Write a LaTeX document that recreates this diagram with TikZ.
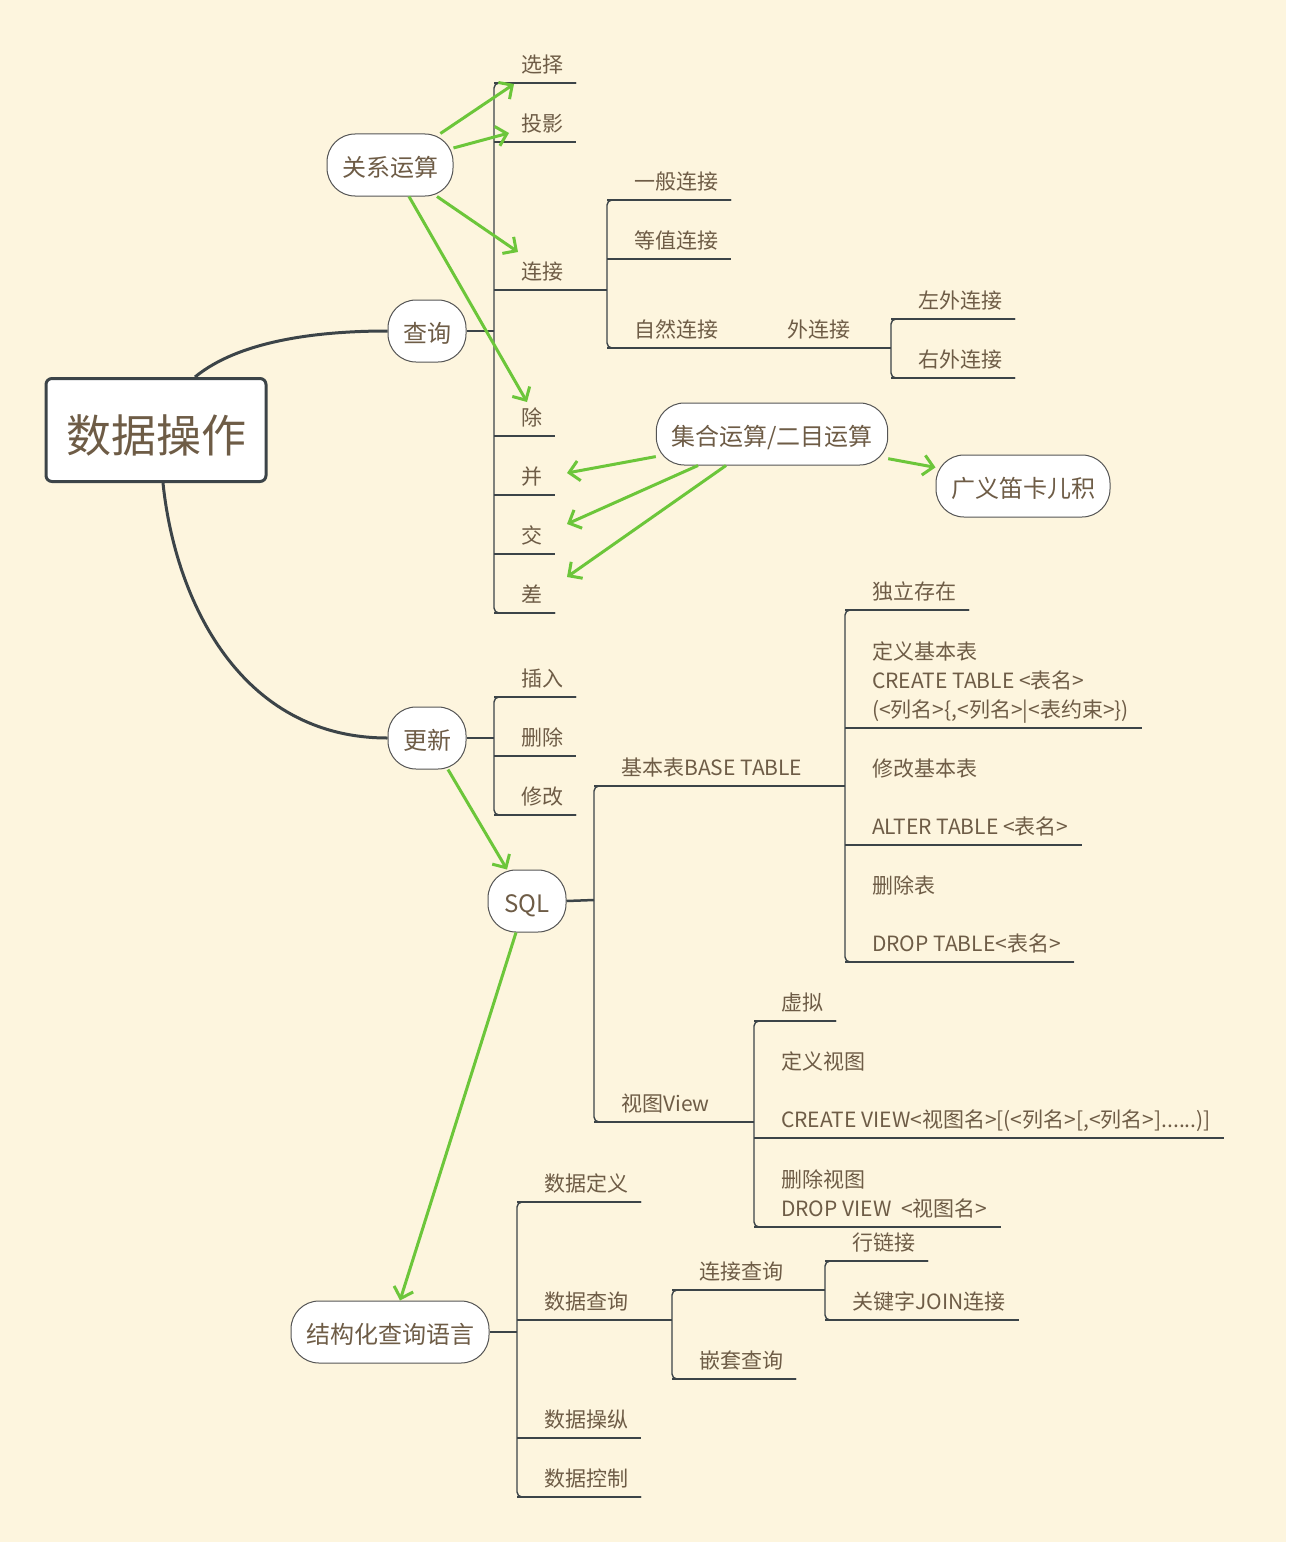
\documentclass[tikz,border=0pt]{standalone}
\usepackage{fontspec}
\setmainfont{Noto Sans CJK SC}
\usetikzlibrary{arrows.meta,calc}

\definecolor{paper}{RGB}{253,245,222}
\definecolor{ink}{RGB}{110,92,70}
\definecolor{wire}{RGB}{60,68,72}
\definecolor{rim}{RGB}{85,85,85}
\definecolor{grn}{RGB}{108,198,58}

\tikzset{
  topic/.style={draw=wire, line width=3pt, fill=white, rounded corners=6pt, minimum width=220pt, minimum height=103pt, inner sep=0pt, text height=45pt, text depth=0pt, text=ink, font=\fontsize{45}{54}\selectfont},
  subtopic/.style={draw=rim, line width=1pt, fill=white, rounded corners=28pt, minimum width=78pt, minimum height=62pt, inner xsep=15pt, inner ysep=0pt, text height=22pt, text depth=0pt, text=ink, font=\fontsize{24}{29}\selectfont},
  trunk/.style={draw=wire, line width=3pt},
  link/.style={draw=wire, line width=2.5pt},
  branch/.style={draw=wire, line width=1.4pt},
  leaf/.style={anchor=south west, inner sep=0pt, text depth=0pt, align=left, text=ink, font=\fontsize{21}{29}\selectfont,
    append after command={([shift={(-27,10)}]\tikzlastnode.south west) edge[branch] ([shift={(13,10)}]\tikzlastnode.south east)}},
  hint/.style={draw=grn, line width=3pt, -{Straight Barb[length=10pt,width=20pt]}},
}

\begin{document}
\begin{tikzpicture}[x=1pt, y=-1pt]
  \useasboundingbox (0,0) rectangle (1294,1552);
  \fill[paper] (0,0) rectangle (1286,1542);

  % Topics
  \node[topic] (root) at (156,430) {数据操作};
  \node[subtopic] (query) at (427,331) {查询};
  \node[subtopic] (relop) at (390,165) {关系运算};
  \node[subtopic] (setop) at (772,434) {集合运算/二目运算};
  \node[subtopic] (product) at (1023,486) {广义笛卡儿积};
  \node[subtopic] (update) at (427,738) {更新};
  \node[subtopic] (sql) at (527,901) {SQL};
  \node[subtopic] (sqllang) at (390,1332) {结构化查询语言};

  \draw[trunk] ([xshift=39pt]root.north) .. controls (240,340) and (320,331) .. (query.west);
  \draw[trunk] ([xshift=7pt]root.south) .. controls (175,600) and (240,738) .. (update.west);

  % Query
  \node[leaf] (select) at (521,73) {选择};
  \node[leaf] (project) at (521,132) {投影};
  \node[leaf] (join) at (521,280) {连接};
  \node[leaf] (divide) at (521,426) {除};
  \node[leaf] (union) at (521,485) {并};
  \node[leaf] (intersect) at (521,544) {交};
  \node[leaf] (minus) at (521,603) {差};
  \coordinate (f-query) at (494,331);
  \draw[link] (query.east) -- (f-query);
  \draw[branch, rounded corners=5pt] ([shift={(13,10)}]select.south east) -| (f-query) |- ([shift={(13,10)}]minus.south east);

  % Joins
  \node[leaf] (joingen) at (634,190) {一般连接};
  \node[leaf] (joineq) at (634,249) {等值连接};
  \node[leaf] (joinnat) at (634,338) {自然连接};
  \coordinate (f-join) at (607,290);
  \draw[branch] ([shift={(13,10)}]join.south east) -- (f-join);
  \draw[branch, rounded corners=5pt] ([shift={(13,10)}]joingen.south east) -| (f-join) |- ([shift={(13,10)}]joinnat.south east);

  \node[leaf] (joinout) at (787,338) {外连接};
  \draw[branch] ([shift={(13,10)}]joinnat.south east) -- ([shift={(-27,10)}]joinout.south west);
  \node[leaf] (joinleft) at (918,309) {左外连接};
  \node[leaf] (joinright) at (918,368) {右外连接};
  \coordinate (f-joinout) at (891,348);
  \draw[branch] ([shift={(13,10)}]joinout.south east) -- (f-joinout);
  \draw[branch, rounded corners=5pt] ([shift={(13,10)}]joinleft.south east) -| (f-joinout) |- ([shift={(13,10)}]joinright.south east);

  % Update
  \node[leaf] (insert) at (521,687) {插入};
  \node[leaf] (delete) at (521,746) {删除};
  \node[leaf] (modify) at (521,805) {修改};
  \coordinate (f-update) at (494,738);
  \draw[link] (update.east) -- (f-update);
  \draw[branch, rounded corners=5pt] ([shift={(13,10)}]insert.south east) -| (f-update) |- ([shift={(13,10)}]modify.south east);

  % SQL
  \node[leaf] (basetab) at (621,776) {基本表BASE TABLE};
  \node[leaf] (view) at (621,1112) {视图View};
  \coordinate (f-sql) at (594,900);
  \draw[link] (sql.east) -- (f-sql);
  \draw[branch, rounded corners=5pt] ([shift={(13,10)}]basetab.south east) -| (f-sql) |- ([shift={(13,10)}]view.south east);

  \node[leaf] (indep) at (872,600) {独立存在};
  \node[leaf] (deftab) at (872,718) {定义基本表\\CREATE TABLE <表名>\\(<列名>\{,<列名>|<表约束>\})};
  \node[leaf] (alttab) at (872,835) {修改基本表\\[29pt]ALTER TABLE <表名>};
  \node[leaf] (droptab) at (872,952) {删除表\\[29pt]DROP TABLE<表名>};
  \coordinate (f-basetab) at (845,786);
  \draw[branch] ([shift={(13,10)}]basetab.south east) -- (f-basetab);
  \draw[branch, rounded corners=5pt] ([shift={(13,10)}]indep.south east) -| (f-basetab) |- ([shift={(13,10)}]droptab.south east);

  \node[leaf] (virt) at (781,1011) {虚拟};
  \node[leaf] (defview) at (781,1128) {定义视图\\[29pt]CREATE VIEW<视图名>[(<列名>[,<列名>]......)]};
  \node[leaf] (dropview) at (781,1217) {删除视图\\DROP VIEW\ \ <视图名>};
  \coordinate (f-view) at (754,1122);
  \draw[branch] ([shift={(13,10)}]view.south east) -- (f-view);
  \draw[branch, rounded corners=5pt] ([shift={(13,10)}]virt.south east) -| (f-view) |- ([shift={(13,10)}]dropview.south east);

  % Structured query language
  \node[leaf] (ddl) at (544,1192) {数据定义};
  \node[leaf] (dql) at (544,1310) {数据查询};
  \node[leaf] (dml) at (544,1428) {数据操纵};
  \node[leaf] (dcl) at (544,1487) {数据控制};
  \coordinate (f-sqllang) at (517,1332);
  \draw[link] (sqllang.east) -- (f-sqllang);
  \draw[branch, rounded corners=5pt] ([shift={(13,10)}]ddl.south east) -| (f-sqllang) |- ([shift={(13,10)}]dcl.south east);

  \node[leaf] (joinq) at (699,1280) {连接查询};
  \node[leaf] (nestq) at (699,1369) {嵌套查询};
  \coordinate (f-dql) at (672,1320);
  \draw[branch] ([shift={(13,10)}]dql.south east) -- (f-dql);
  \draw[branch, rounded corners=5pt] ([shift={(13,10)}]joinq.south east) -| (f-dql) |- ([shift={(13,10)}]nestq.south east);

  \node[leaf] (rowlink) at (852,1251) {行链接};
  \node[leaf] (keyjoin) at (852,1310) {关键字JOIN连接};
  \coordinate (f-joinq) at (825,1290);
  \draw[branch] ([shift={(13,10)}]joinq.south east) -- (f-joinq);
  \draw[branch, rounded corners=5pt] ([shift={(13,10)}]rowlink.south east) -| (f-joinq) |- ([shift={(13,10)}]keyjoin.south east);

  % Green hints
  \draw[hint] (relop.32) -- ([shift={(-7,11)}]select.south west);
  \draw[hint] (relop.15) -- ([shift={(-12,1)}]project.south west);
  \draw[hint] ([xshift=47pt]relop.south) -- ([shift={(-3,-28)}]join.south west);
  \draw[hint] ([xshift=19pt]relop.south) -- ([shift={(6,-24)}]divide.south west);
  \draw[hint] (setop.191) -- ([shift={(46,-12)}]union.south west);
  \draw[hint] ([xshift=-74pt]setop.south) -- ([shift={(46,-20)}]intersect.south west);
  \draw[hint] ([xshift=-46pt]setop.south) -- ([shift={(46,-26)}]minus.south west);
  \draw[hint] (setop.-12) -- (product.168);
  \draw[hint] ([xshift=21pt]update.south) -- ([xshift=-20pt]sql.north);
  \draw[hint] ([xshift=-11pt]sql.south) -- ([xshift=10pt]sqllang.north);
\end{tikzpicture}
\end{document}
